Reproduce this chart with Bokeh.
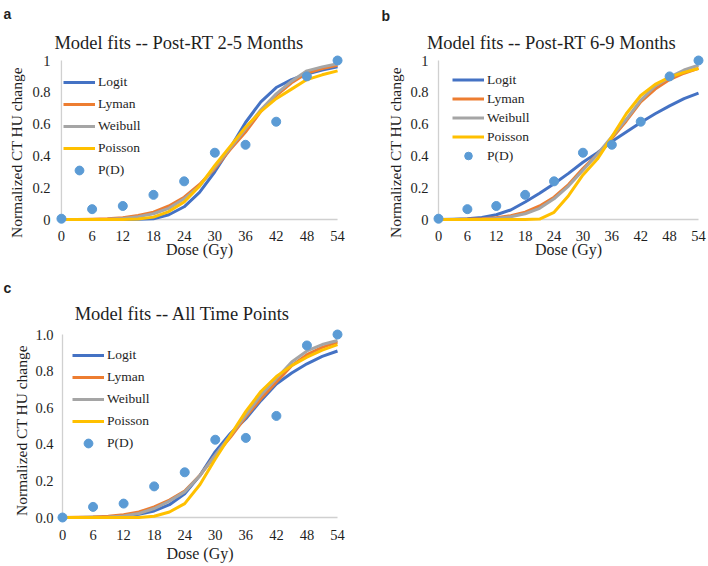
from bokeh.plotting import figure
from bokeh.models import Range1d, FixedTicker, Label, Legend, LegendItem, Title
from bokeh.layouts import column, row
from bokeh.embed import file_html
from bokeh.resources import INLINE

# ---------------- data ----------------
dose_ticks = [0, 6, 12, 18, 24, 30, 36, 42, 48, 54]
y_ticks = [0, 0.2, 0.4, 0.6, 0.8, 1.0]
y_tick_labels_ab = ["0", "0.2", "0.4", "0.6", "0.8", "1"]
y_tick_labels_c = ["0.0", "0.2", "0.4", "0.6", "0.8", "1.0"]

pd_dose = [0, 6, 12, 18, 24, 30, 36, 42, 48, 54]
pd_a = [0.005, 0.065, 0.085, 0.155, 0.24, 0.42, 0.47, 0.615, 0.90, 1.0]
pd_b = [0.005, 0.065, 0.085, 0.155, 0.24, 0.42, 0.47, 0.615, 0.90, 1.0]
pd_c = [0.0, 0.058, 0.076, 0.17, 0.247, 0.425, 0.435, 0.555, 0.94, 1.0]

curve_dose = [0, 3, 6, 9, 12, 15, 18, 21, 24, 27, 30, 33, 36, 39, 42, 45, 48, 51, 54]

logit_a   = [0, 0, 0, 0, 0, 0.001, 0.005, 0.03, 0.08, 0.17, 0.30, 0.45, 0.61, 0.74, 0.83, 0.88, 0.915, 0.94, 0.96]
lyman_a   = [0, 0, 0.001, 0.004, 0.011, 0.025, 0.046, 0.085, 0.14, 0.22, 0.32, 0.44, 0.55, 0.68, 0.78, 0.86, 0.92, 0.95, 0.97]
weibull_a = [0, 0, 0, 0.002, 0.007, 0.018, 0.036, 0.07, 0.13, 0.21, 0.33, 0.45, 0.57, 0.69, 0.79, 0.87, 0.935, 0.96, 0.98]
poisson_a = [0, 0, 0, 0, 0, 0.003, 0.015, 0.05, 0.11, 0.21, 0.34, 0.46, 0.58, 0.68, 0.76, 0.82, 0.88, 0.91, 0.935]

logit_b   = [0, 0.001, 0.004, 0.012, 0.03, 0.06, 0.11, 0.165, 0.225, 0.29, 0.36, 0.42, 0.49, 0.55, 0.61, 0.665, 0.715, 0.76, 0.795]
lyman_b   = [0, 0, 0.001, 0.004, 0.011, 0.024, 0.046, 0.085, 0.14, 0.22, 0.32, 0.41, 0.51, 0.62, 0.74, 0.82, 0.88, 0.92, 0.95]
weibull_b = [0, 0, 0, 0.002, 0.007, 0.017, 0.036, 0.07, 0.13, 0.21, 0.31, 0.41, 0.52, 0.63, 0.75, 0.84, 0.895, 0.94, 0.97]
poisson_b = [0, 0, 0, 0, 0, 0, 0, 0.003, 0.045, 0.15, 0.28, 0.38, 0.52, 0.665, 0.78, 0.85, 0.895, 0.925, 0.95]

logit_c   = [0, 0, 0.001, 0.003, 0.008, 0.018, 0.036, 0.07, 0.13, 0.23, 0.36, 0.46, 0.54, 0.64, 0.73, 0.79, 0.84, 0.88, 0.91]
lyman_c   = [0, 0.001, 0.003, 0.007, 0.015, 0.03, 0.058, 0.095, 0.145, 0.23, 0.34, 0.44, 0.55, 0.65, 0.74, 0.83, 0.89, 0.93, 0.958]
weibull_c = [0, 0, 0.001, 0.003, 0.008, 0.022, 0.049, 0.09, 0.14, 0.23, 0.34, 0.45, 0.56, 0.67, 0.76, 0.85, 0.91, 0.945, 0.967]
poisson_c = [0, 0, 0, 0, 0, 0, 0.007, 0.03, 0.076, 0.18, 0.32, 0.45, 0.58, 0.69, 0.77, 0.83, 0.876, 0.915, 0.945]

series_names = ["Logit", "Lyman", "Weibull", "Poisson"]
point_name = "P(D)"
y_title = "Normalized CT HU change"
x_title = "Dose (Gy)"

# ---------------- style ----------------
SERIF = "Liberation Serif"
SANS = "Liberation Sans"
TXT = "#1e1e1e"
COLORS = ["#4472C4", "#ED7D31", "#A5A5A5", "#FFC000"]
PT_COLOR = "#5B9BD5"
AXIS_COLOR = "#D0D0D0"
YTITLE_LEN = 171  # approx rendered length of the y title in px


def no_frame_align(f):
    if "frame_align" in f.properties():
        f.frame_align = False


def blank_fig(w, h):
    f = figure(width=w, height=h, output_backend="svg", toolbar_location=None,
               x_axis_location=None, y_axis_location=None,
               x_range=Range1d(0, 1), y_range=Range1d(0, 1),
               min_border=0, min_border_left=0, min_border_right=0,
               min_border_top=0, min_border_bottom=0)
    f.outline_line_color = None
    f.xgrid.visible = False
    f.ygrid.visible = False
    no_frame_align(f)
    return f


def put(f, ox, oy, h, text, rx, ry, size, font=SERIF, style="normal",
        align="center", baseline="middle"):
    f.add_layout(Label(x=rx - ox, y=oy + h - ry, x_units="screen", y_units="screen", text=text,
                       text_font=font, text_font_size=size, text_font_style=style,
                       text_align=align, text_baseline=baseline, text_color=TXT))


def build_panel(box, header_h, letter, letter_xy, title, title_xy, ylab_cy, ylab_stand,
                X0, X1, Y0, Y1, curves, pts, ylabels, legend_xy, item_h,
                ystand, xstand, xlab_stand, pad=6):
    fx, fy, W, H = box
    # header strip: panel letter + chart title
    hdr = blank_fig(W, header_h)
    put(hdr, fx, fy, header_h, letter, letter_xy[0], letter_xy[1], "14px", font=SANS,
        style="bold", align="left", baseline="alphabetic")
    put(hdr, fx, fy, header_h, title, title_xy[0], title_xy[1], "18.5px")

    body_y = fy + header_h
    body_h = H - header_h

    FL, FR, FT, FB = X0 - pad, X1 + pad, Y1 - pad, Y0 + pad
    xmax = dose_ticks[-1]
    ymax = y_ticks[-1]
    sx = (X1 - X0) / xmax
    sy = (Y0 - Y1) / ymax
    p = figure(width=W, height=body_h, output_backend="svg", toolbar_location=None,
               x_range=Range1d(-pad / sx, xmax + pad / sx),
               y_range=Range1d(-pad / sy, ymax + pad / sy),
               min_border_left=int(FL - fx), min_border_right=int(fx + W - FR),
               min_border_top=int(FT - body_y), min_border_bottom=int(body_y + body_h - FB))
    p.outline_line_color = None
    p.xgrid.visible = False
    p.ygrid.visible = False
    no_frame_align(p)

    for ax in (p.xaxis[0], p.yaxis[0]):
        ax.axis_line_color = None
        ax.major_tick_line_color = None
        ax.minor_tick_line_color = None
        ax.major_tick_out = 0
        ax.major_tick_in = 0
        ax.minor_tick_out = 0
        ax.minor_tick_in = 0
        ax.major_label_text_font = SERIF
        ax.major_label_text_font_size = "14.5px"
        ax.major_label_text_color = TXT
    p.xaxis.ticker = FixedTicker(ticks=dose_ticks)
    p.yaxis.ticker = FixedTicker(ticks=y_ticks)
    p.yaxis.major_label_overrides = {t: s for t, s in zip(y_ticks, ylabels)}
    p.xaxis.major_label_standoff = xstand
    p.yaxis.major_label_standoff = ystand
    p.xaxis.axis_label = x_title
    p.xaxis.axis_label_text_font = SERIF
    p.xaxis.axis_label_text_font_size = "16px"
    p.xaxis.axis_label_text_font_style = "normal"
    p.xaxis.axis_label_text_color = TXT
    p.xaxis.axis_label_standoff = xlab_stand

    # y-axis title as a side title (reads bottom to top)
    p.add_layout(Title(text=y_title, align="left", offset=FB - (ylab_cy + YTITLE_LEN / 2),
                       standoff=ylab_stand, vertical_align="bottom",
                       text_font=SERIF, text_font_size="15.5px", text_font_style="normal",
                       text_color=TXT), "left")

    # axis base lines (light gray, Excel style) at data zero
    p.line([dose_ticks[0], dose_ticks[-1]], [y_ticks[0], y_ticks[0]], line_color=AXIS_COLOR, line_width=1.3)
    p.line([dose_ticks[0], dose_ticks[0]], [y_ticks[0], y_ticks[-1]], line_color=AXIS_COLOR, line_width=1.3)

    items = []
    for name, ys, col in zip(series_names, curves, COLORS):
        r = p.line(curve_dose, ys, line_color=col, line_width=3, line_join="round")
        items.append(LegendItem(label=name, renderers=[r]))
    r = p.scatter(pd_dose, pts, size=9, marker="circle", fill_color=PT_COLOR, line_color=PT_COLOR)
    items.append(LegendItem(label=point_name, renderers=[r]))

    lx, ltop = legend_xy
    n = len(items)
    leg = Legend(items=items, location=(lx - FL, FB - (ltop + n * item_h)),
                 label_text_font=SERIF, label_text_font_size="13.5px", label_text_color=TXT,
                 label_height=item_h, glyph_height=item_h, glyph_width=32,
                 label_standoff=3, spacing=0, padding=0, margin=0,
                 border_line_color=None, background_fill_alpha=0)
    p.add_layout(leg)

    return column(row(hdr), row(p))


panel_a = build_panel((0, 0, 358, 276), 54, "a", (3, 13.5),
                      "Model fits -- Post-RT 2-5 Months", (178.5, 42), 152, 10,
                      58, 337, 219, 60, [logit_a, lyman_a, weibull_a, poisson_a], pd_a,
                      y_tick_labels_ab, (60, 71), 22, 5, 5, -3)

panel_b = build_panel((358, 0, 350, 276), 54, "b", (381, 15),
                      "Model fits -- Post-RT 6-9 Months", (551, 42), 152, 8,
                      438, 698, 219, 60, [logit_b, lyman_b, weibull_b, poisson_b], pd_b,
                      y_tick_labels_ab, (452, 70), 19, 4, 5, -3)

panel_c = build_panel((0, 276, 358, 290), 52, "c", (3, 287),
                      "Model fits -- All Time Points", (182, 313), 430, 6,
                      62, 337, 517, 334, [logit_c, lyman_c, weibull_c, poisson_c], pd_c,
                      y_tick_labels_c, (72, 344), 22, 3, 6, 2)

layout = column(row(panel_a, panel_b), panel_c)
open("out.html", "w").write(file_html(layout, INLINE))
